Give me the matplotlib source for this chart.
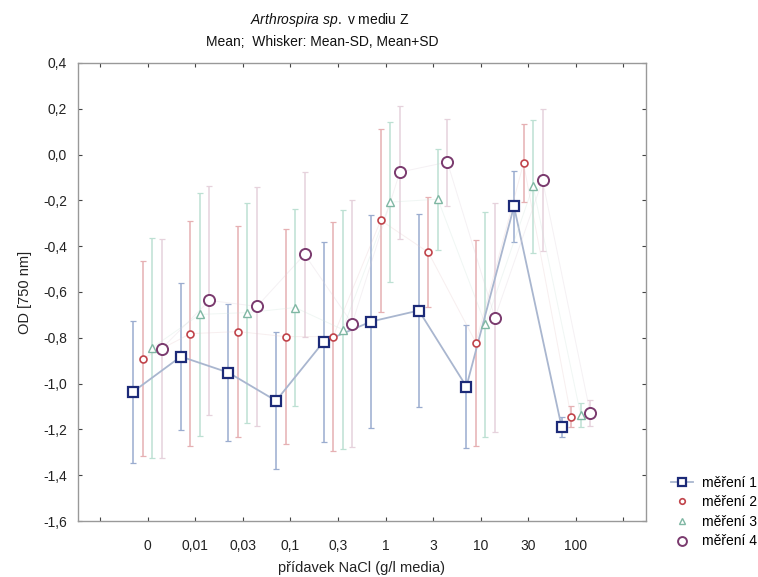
import matplotlib
matplotlib.use("Agg")
import matplotlib.pyplot as plt
import numpy as np

plt.rcParams['font.family'] = ['Liberation Sans', 'DejaVu Sans']
plt.rcParams['mathtext.fontset'] = 'custom'
plt.rcParams['mathtext.it'] = 'Liberation Sans:italic'
plt.rcParams['mathtext.rm'] = 'Liberation Sans'

categories = ["0", "0,01", "0,03", "0,1", "0,3", "1", "3", "10", "30", "100"]

mean_1 = [-1.035, -0.882, -0.952, -1.075, -0.817, -0.729, -0.681, -1.013, -0.226, -1.189]
sd_1 = [0.31, 0.32, 0.30, 0.30, 0.437, 0.465, 0.42, 0.27, 0.155, 0.045]

mean_2 = [-0.891, -0.782, -0.773, -0.795, -0.795, -0.287, -0.427, -0.821, -0.038, -1.145]
sd_2 = [0.424, 0.49, 0.46, 0.47, 0.50, 0.40, 0.24, 0.45, 0.17, 0.045]

mean_3 = [-0.843, -0.698, -0.690, -0.668, -0.764, -0.208, -0.195, -0.742, -0.138, -1.136]
sd_3 = [0.48, 0.53, 0.48, 0.43, 0.52, 0.35, 0.22, 0.49, 0.29, 0.053]

mean_4 = [-0.847, -0.637, -0.663, -0.436, -0.738, -0.077, -0.033, -0.712, -0.112, -1.127]
sd_4 = [0.48, 0.50, 0.52, 0.36, 0.54, 0.29, 0.19, 0.50, 0.31, 0.057]

series_names = ["měření 1", "měření 2", "měření 3", "měření 4"]

fig = plt.figure(figsize=(7.58, 5.77), dpi=100)
ax = fig.add_axes([0.103, 0.097, 0.749, 0.794])

pos = np.arange(1, len(categories) + 1)
offsets = [-0.3, -0.1, 0.1, 0.3]

styles = [
    dict(marker="s", ms=7, mfc="white", mec="#1c2a78", mew=1.6,
         line="#a9b6cf", lw=1.3, bar="#9aaccf", alpha_line=1.0),
    dict(marker="o", ms=5, mfc="white", mec="#c0434a", mew=1.2,
         line="#e6c9cb", lw=0.7, bar="#e6b0b3", alpha_line=0.3),
    dict(marker="^", ms=6, mfc="white", mec="#7fb7a3", mew=1.0,
         line="#cde3da", lw=0.7, bar="#bde0d3", alpha_line=0.3),
    dict(marker="o", ms=8, mfc="white", mec="#7a3a6e", mew=1.4,
         line="#ddd0da", lw=0.7, bar="#e6d2dc", alpha_line=0.3),
]

means = [mean_1, mean_2, mean_3, mean_4]
sds = [sd_1, sd_2, sd_3, sd_4]

for i, (m, s, st) in enumerate(zip(means, sds, styles)):
    x = pos + offsets[i]
    ax.errorbar(x, m, yerr=s, fmt="none", ecolor=st["bar"], elinewidth=1.1,
                capsize=2, capthick=0.9, zorder=2)
    ax.plot(x, m, "-", color=st["line"], lw=st["lw"], alpha=st["alpha_line"], zorder=3)
    ax.plot(x, m, linestyle="none", marker=st["marker"], ms=st["ms"],
            mfc=st["mfc"], mec=st["mec"], mew=st["mew"], zorder=4)

# legend entries; the first series shows its connecting line
legend_handles = []
for i, st in enumerate(styles):
    lh, = ax.plot([], [], linestyle="-" if i == 0 else "none", color=st["line"],
                  lw=st["lw"], marker=st["marker"], ms=st["ms"] * 0.8,
                  mfc=st["mfc"], mec=st["mec"], mew=st["mew"])
    legend_handles.append(lh)

ax.set_xlim(-0.46, 11.47)
ax.set_ylim(-1.6, 0.4)
ax.set_xticks(np.arange(0, 12))
ax.set_xticklabels([""] + categories + [""])
yt = np.round(np.arange(-1.6, 0.41, 0.2), 1)
ax.set_yticks(yt)
ax.set_yticklabels([f"{v:.1f}".replace(".", ",").replace("-0,0", "0,0") for v in yt])

ax.tick_params(direction="in", length=3, width=0.8, color="#444444",
               top=True, right=True, labelsize=10, labelcolor="#222222", pad=8)
ax.tick_params(axis="x", pad=13)
for sp in ax.spines.values():
    sp.set_color("#999999")
    sp.set_linewidth(1.0)

ax.set_xlabel("přídavek NaCl (g/l media)", fontsize=10.5, color="#222222", labelpad=6)
ax.set_ylabel("OD [750 nm]", fontsize=10.5, color="#222222", labelpad=8)

fig.text(0.435, 0.966, r"$\mathit{Arthrospira\ sp.}$ v mediu Z", ha="center",
         va="center", fontsize=10, color="#111111")
fig.text(0.425, 0.928, "Mean;  Whisker: Mean-SD, Mean+SD", ha="center",
         va="center", fontsize=10, color="#111111")

fig.legend(legend_handles, series_names, loc="lower left",
           bbox_to_anchor=(0.878, 0.04), frameon=False, fontsize=10,
           handlelength=1.6, handletextpad=0.6, labelspacing=0.4,
           borderaxespad=0)

fig.savefig("out.png", dpi=100)
